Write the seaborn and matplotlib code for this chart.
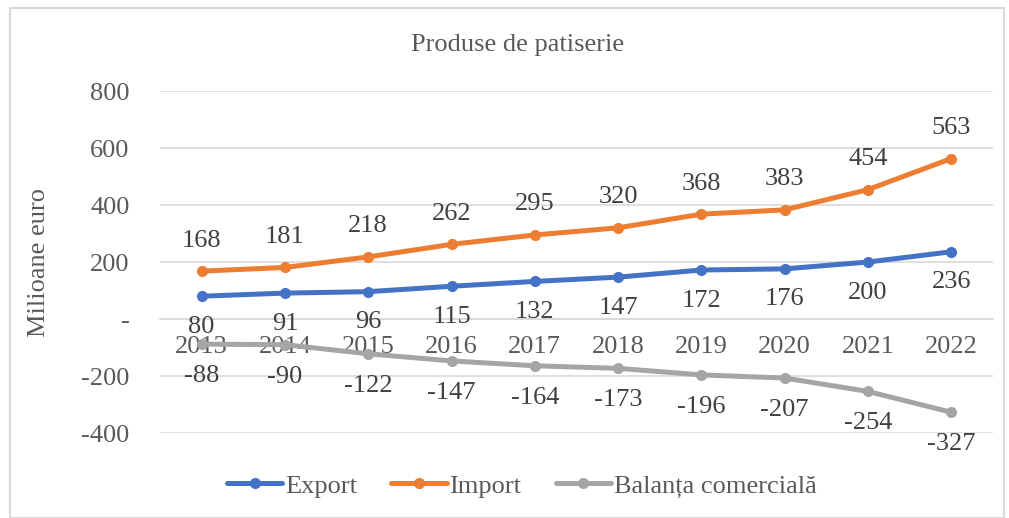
import pandas as pd
import numpy as np
import matplotlib
matplotlib.use("Agg")
import matplotlib.pyplot as plt
import seaborn as sns
from matplotlib.ticker import FuncFormatter
from matplotlib.patches import Rectangle

years = ["2013", "2014", "2015", "2016", "2017", "2018", "2019", "2020", "2021", "2022"]
export_vals = [80, 91, 96, 115, 132, 147, 172, 176, 200, 236]
import_vals = [168, 181, 218, 262, 295, 320, 368, 383, 454, 563]
balance_vals = [-88, -90, -122, -147, -164, -173, -196, -207, -254, -327]
series_names = ["Export", "Import", "Balanța comercială"]
colors = ["#4472C4", "#ED7D31", "#A5A5A5"]

df = pd.DataFrame({
    "pos": list(range(len(years))) * 3,
    "value": export_vals + import_vals + balance_vals,
    "series": [series_names[0]] * 10 + [series_names[1]] * 10 + [series_names[2]] * 10,
})

sns.set_theme(style="white")
plt.rcParams["font.family"] = ["Liberation Serif", "DejaVu Serif"]
text_col = "#595959"
fs = 19

fig = plt.figure(figsize=(10.09, 5.18), dpi=100)
ax = fig.add_axes([0.1586, 0.164, 0.8254, 0.6603])

sns.lineplot(data=df, x="pos", y="value", hue="series", palette=colors,
             marker="o", markersize=8, markeredgewidth=0, linewidth=3.6,
             ax=ax, legend=True)

ax.set_xlim(-0.5, len(years) - 0.5)
ax.set_ylim(-400, 800)
ax.set_yticks([-400, -200, 0, 200, 400, 600, 800])
ax.yaxis.set_major_formatter(FuncFormatter(lambda v, p: "-" if v == 0 else f"{int(v)}"))
ax.set_xticks(range(len(years)))
ax.set_xticklabels(years)
ax.grid(axis="y", color="#D9D9D9", linewidth=1.2)
ax.set_axisbelow(True)
for s in ["top", "right", "left"]:
    ax.spines[s].set_visible(False)
ax.spines["bottom"].set_position(("data", 0))
ax.spines["bottom"].set_color("#D9D9D9")
ax.spines["bottom"].set_linewidth(1.2)
ax.tick_params(axis="x", length=0, pad=12, labelsize=fs, colors=text_col)
ax.tick_params(axis="y", length=0, pad=22, labelsize=fs, colors=text_col)
ax.set_xlabel("")
ax.set_ylabel("Milioane euro", fontsize=fs, color=text_col)
ax.yaxis.set_label_coords(-0.132, 0.5)

# data labels
for i in range(len(years)):
    ax.annotate(str(import_vals[i]), (i, import_vals[i]), xytext=(0, 22), textcoords="offset points",
                ha="center", va="center", fontsize=fs, color="#404040")
    ax.annotate(str(export_vals[i]), (i, export_vals[i]), xytext=(0, -22), textcoords="offset points",
                ha="center", va="center", fontsize=fs, color="#404040")
    ax.annotate(str(balance_vals[i]), (i, balance_vals[i]), xytext=(0, -23), textcoords="offset points",
                ha="center", va="center", fontsize=fs, color="#404040")

fig.text(0.513, 0.913, "Produse de patiserie", fontsize=fs, color=text_col, ha="center", va="center")

handles, labels = ax.get_legend_handles_labels()
ax.get_legend().remove()
leg = fig.legend(handles, labels, loc="center", bbox_to_anchor=(0.517, 0.062), ncol=3, frameon=False,
                 fontsize=fs, handlelength=2.1, columnspacing=1.3, handletextpad=0.1)
for t in leg.get_texts():
    t.set_color(text_col)

fig.patches.append(Rectangle((0.01, 0.0), 0.985, 0.985, transform=fig.transFigure,
                             fill=False, edgecolor="#D9D9D9", linewidth=1.5))

fig.savefig("out.png", dpi=100)
